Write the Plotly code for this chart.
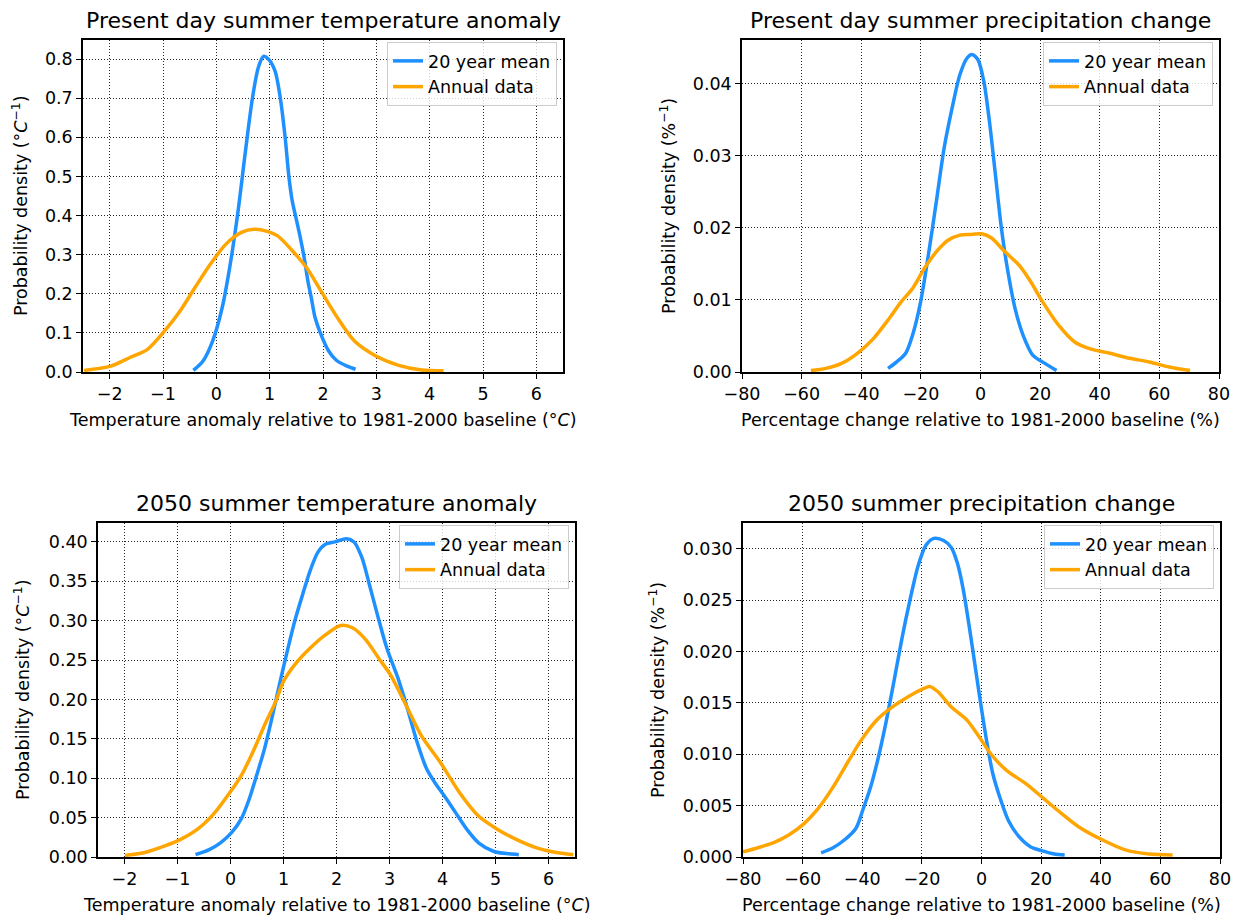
import plotly.graph_objects as go

# reference canvas size; the page adds an 8px body margin, so draw into the visible area
REF_W, REF_H = 1239, 917
OFF = 8
W, H = REF_W - OFF, REF_H - OFF

# ---------------- DATA ----------------
# Present day temperature (deg C)
t_now_mean_x = [-0.43, -0.25, -0.07, 0.11, 0.25, 0.40, 0.54, 0.68, 0.79, 0.885, 0.97, 1.10, 1.20, 1.29, 1.36, 1.42, 1.50, 1.58, 1.65, 1.72, 1.78, 1.85, 1.95, 2.10, 2.25, 2.45, 2.61]
t_now_mean_y = [0.004, 0.028, 0.079, 0.165, 0.267, 0.404, 0.558, 0.703, 0.780, 0.807, 0.801, 0.770, 0.700, 0.600, 0.500, 0.440, 0.390, 0.340, 0.290, 0.230, 0.190, 0.140, 0.100, 0.055, 0.030, 0.015, 0.007]
t_now_ann_x = [-2.48, -1.98, -1.62, -1.29, -0.97, -0.68, -0.40, -0.11, 0.18, 0.47, 0.71, 0.97, 1.15, 1.40, 1.69, 1.98, 2.27, 2.59, 2.99, 3.42, 3.85, 4.26]
t_now_ann_y = [0.004, 0.015, 0.037, 0.058, 0.105, 0.156, 0.216, 0.276, 0.327, 0.357, 0.365, 0.359, 0.348, 0.314, 0.267, 0.203, 0.139, 0.079, 0.041, 0.017, 0.005, 0.003]

# Present day precipitation (%)
p_now_mean_x = [-31.0, -28.1, -25.1, -22.8, -20.1, -17.5, -14.8, -12.2, -9.5, -6.9, -4.5, -2.9, -0.9, 1.1, 3.0, 5.0, 7.0, 9.0, 11.6, 14.3, 17.6, 21.6, 25.5]
p_now_mean_y = [0.0005, 0.0014, 0.0026, 0.0051, 0.0097, 0.0162, 0.0237, 0.0311, 0.0367, 0.0413, 0.0436, 0.0441, 0.0434, 0.0404, 0.0348, 0.0274, 0.0200, 0.0144, 0.0088, 0.0051, 0.0023, 0.0012, 0.0002]
p_now_ann_x = [-56.9, -51.9, -46.6, -41.3, -36.0, -30.7, -26.7, -22.8, -18.8, -14.8, -10.9, -6.9, -2.9, 0.4, 3.7, 7.7, 13.0, 16.9, 20.9, 26.2, 31.5, 36.8, 43.4, 50.0, 56.6, 63.3, 70.3]
p_now_ann_y = [0.0002, 0.0005, 0.0012, 0.0026, 0.0046, 0.0074, 0.0097, 0.0116, 0.0144, 0.0167, 0.0183, 0.0190, 0.0191, 0.0192, 0.0186, 0.0169, 0.0148, 0.0125, 0.0097, 0.0065, 0.0042, 0.0032, 0.0026, 0.0019, 0.0014, 0.0007, 0.0002]

# 2050 temperature (deg C)
t_50_mean_x = [-0.66, -0.41, -0.19, 0.02, 0.20, 0.35, 0.49, 0.64, 0.78, 0.92, 1.07, 1.21, 1.36, 1.50, 1.65, 1.79, 1.97, 2.19, 2.33, 2.48, 2.62, 2.77, 2.95, 3.16, 3.34, 3.52, 3.70, 3.85, 4.03, 4.25, 4.46, 4.68, 4.97, 5.26, 5.44]
t_50_mean_y = [0.003, 0.009, 0.018, 0.031, 0.048, 0.073, 0.103, 0.137, 0.176, 0.218, 0.261, 0.299, 0.333, 0.363, 0.387, 0.397, 0.400, 0.404, 0.400, 0.380, 0.346, 0.308, 0.265, 0.227, 0.188, 0.146, 0.112, 0.095, 0.078, 0.056, 0.035, 0.018, 0.007, 0.004, 0.003]
t_50_ann_x = [-1.99, -1.60, -1.24, -0.95, -0.59, -0.30, -0.01, 0.20, 0.42, 0.64, 0.85, 1.00, 1.21, 1.50, 1.79, 2.08, 2.30, 2.55, 2.80, 3.02, 3.31, 3.60, 3.96, 4.32, 4.68, 5.04, 5.40, 5.76, 6.12, 6.47]
t_50_ann_y = [0.002, 0.006, 0.014, 0.022, 0.037, 0.056, 0.082, 0.103, 0.133, 0.167, 0.197, 0.223, 0.244, 0.265, 0.282, 0.294, 0.291, 0.276, 0.252, 0.231, 0.193, 0.154, 0.120, 0.082, 0.052, 0.035, 0.022, 0.012, 0.006, 0.003]

# 2050 precipitation (%)
p_50_mean_x = [-53.8, -49.8, -45.8, -42.1, -39.9, -37.2, -34.6, -31.9, -29.3, -26.6, -24.0, -21.3, -18.7, -16.0, -12.7, -10.1, -8.1, -6.1, -4.1, -2.1, -0.1, 1.9, 3.8, 6.5, 9.1, 12.5, 16.4, 20.4, 24.4, 27.9]
p_50_mean_y = [0.0004, 0.0009, 0.0017, 0.0028, 0.0045, 0.0068, 0.0097, 0.0133, 0.0172, 0.0214, 0.0250, 0.0283, 0.0303, 0.0310, 0.0308, 0.0301, 0.0286, 0.0260, 0.0224, 0.0185, 0.0146, 0.0110, 0.0081, 0.0055, 0.0035, 0.0020, 0.0010, 0.0006, 0.0003, 0.0002]
p_50_ann_x = [-80.0, -75.0, -69.7, -64.4, -59.7, -55.1, -49.8, -44.5, -40.5, -35.2, -29.9, -24.6, -19.3, -17.4, -14.7, -10.1, -4.8, -0.8, 3.2, 8.5, 15.1, 20.4, 25.7, 32.3, 40.3, 48.2, 56.2, 64.1]
p_50_ann_y = [0.0005, 0.0009, 0.0014, 0.0022, 0.0032, 0.0046, 0.0068, 0.0094, 0.0113, 0.0133, 0.0146, 0.0156, 0.0164, 0.0166, 0.0161, 0.0146, 0.0133, 0.0117, 0.0100, 0.0084, 0.0071, 0.0058, 0.0045, 0.0030, 0.0017, 0.0007, 0.0003, 0.0002]

temp_xticks = [-2, -1, 0, 1, 2, 3, 4, 5, 6]
temp_xlabels = ["−2", "−1", "0", "1", "2", "3", "4", "5", "6"]
prec_xticks = [-80, -60, -40, -20, 0, 20, 40, 60, 80]
prec_xlabels = ["−80", "−60", "−40", "−20", "0", "20", "40", "60", "80"]
tl_yticks = [0.0, 0.1, 0.2, 0.3, 0.4, 0.5, 0.6, 0.7, 0.8]
tr_yticks = [0.00, 0.01, 0.02, 0.03, 0.04]
bl_yticks = [0.00, 0.05, 0.10, 0.15, 0.20, 0.25, 0.30, 0.35, 0.40]
br_yticks = [0.000, 0.005, 0.010, 0.015, 0.020, 0.025, 0.030]

titles = ["Present day summer temperature anomaly", "Present day summer precipitation change",
          "2050 summer temperature anomaly", "2050 summer precipitation change"]
temp_xtitle = "Temperature anomaly relative to 1981-2000 baseline (°<i>C</i>)"
prec_xtitle = "Percentage change relative to 1981-2000 baseline (%)"
temp_ytitle = "Probability density (°<i>C</i><sup>−1</sup>)"
prec_ytitle = "Probability density (%<sup>−1</sup>)"
series_names = ["20 year mean", "Annual data"]

# ---------------- STYLE / LAYOUT ----------------
BLUE = "#1E90FF"
ORANGE = "#FFA500"
FONT = "DejaVu Sans"
FS = 17.5
TFS = 22

# pixel boxes in reference coordinates (left, right, top, bottom)
boxes = [(83, 563, 40, 372), (742, 1219, 40, 372), (98, 575, 523, 857), (743, 1220, 523, 857)]
xranges = [[-2.5, 6.5], [-80, 80], [-2.5, 6.5], [-80, 80]]
yranges = [[0, 0.849], [0, 0.0461], [0, 0.424], [0, 0.0325]]
xticks = [(temp_xticks, temp_xlabels), (prec_xticks, prec_xlabels), (temp_xticks, temp_xlabels), (prec_xticks, prec_xlabels)]
yticks = [(tl_yticks, ".1f"), (tr_yticks, ".2f"), (bl_yticks, ".2f"), (br_yticks, ".3f")]
xtitles = [temp_xtitle, prec_xtitle, temp_xtitle, prec_xtitle]
ytitles = [temp_ytitle, prec_ytitle, temp_ytitle, prec_ytitle]
ytitle_x = [20, 668, 22, 657]
data = [
    (t_now_mean_x, t_now_mean_y, t_now_ann_x, t_now_ann_y),
    (p_now_mean_x, p_now_mean_y, p_now_ann_x, p_now_ann_y),
    (t_50_mean_x, t_50_mean_y, t_50_ann_x, t_50_ann_y),
    (p_50_mean_x, p_50_mean_y, p_50_ann_x, p_50_ann_y),
]

fig = go.Figure()
layout = dict(
    width=W, height=H,
    template="none",
    margin=dict(l=0, r=0, t=0, b=0, pad=0),
    paper_bgcolor="white", plot_bgcolor="white",
    font=dict(family=FONT, size=FS, color="black"),
    annotations=[],
)


def px(x):
    return (x - OFF) / W


def py(y):
    return 1 - (y - OFF) / H


for i in range(4):
    l, r, t, b = boxes[i]
    sfx = "" if i == 0 else str(i + 1)
    xa, ya = "x" + sfx, "y" + sfx
    leg = "legend" + sfx
    mx, my, ax_, ay_ = data[i]
    fig.add_trace(go.Scatter(x=mx, y=my, mode="lines", name=series_names[0],
                             line=dict(color=BLUE, width=3.5, shape="spline", smoothing=0.8),
                             xaxis=xa, yaxis=ya, legend=leg, showlegend=True))
    fig.add_trace(go.Scatter(x=ax_, y=ay_, mode="lines", name=series_names[1],
                             line=dict(color=ORANGE, width=3.5, shape="spline", smoothing=0.8),
                             xaxis=xa, yaxis=ya, legend=leg, showlegend=True))
    common = dict(showline=True, linecolor="black", linewidth=1.5, mirror=True, automargin=False,
                  ticks="outside", ticklen=5, tickwidth=1.3, tickcolor="black",
                  showgrid=True, gridcolor="rgba(0,0,0,0.85)", gridwidth=1, griddash="1px,2px",
                  zeroline=False, tickfont=dict(family=FONT, size=FS, color="black"))
    layout["xaxis" + sfx] = dict(domain=[px(l), px(r)], range=xranges[i], anchor=ya,
                                 tickmode="array", tickvals=xticks[i][0], ticktext=xticks[i][1], **common)
    layout["yaxis" + sfx] = dict(domain=[py(b), py(t)], range=yranges[i], anchor=xa,
                                 tickmode="array", tickvals=yticks[i][0], tickformat=yticks[i][1], **common)
    layout[leg] = dict(x=px(r - 6), y=py(t + 2), xanchor="right", yanchor="top",
                       xref="paper", yref="paper",
                       bgcolor="rgba(255,255,255,0.8)", bordercolor="#cccccc", borderwidth=1,
                       font=dict(family=FONT, size=FS, color="black"), itemwidth=30,
                       tracegroupgap=0)
    cx = (l + r) / 2
    layout["annotations"].append(dict(text=titles[i], x=px(cx), y=py(t - 20), xref="paper", yref="paper",
                                      showarrow=False, xanchor="center", yanchor="middle",
                                      font=dict(family=FONT, size=TFS, color="black")))
    layout["annotations"].append(dict(text=xtitles[i], x=px(cx), y=py(b + 48), xref="paper", yref="paper",
                                      showarrow=False, xanchor="center", yanchor="middle",
                                      font=dict(family=FONT, size=FS, color="black")))
    layout["annotations"].append(dict(text=ytitles[i], x=px(ytitle_x[i]), y=py((t + b) / 2), xref="paper", yref="paper",
                                      showarrow=False, xanchor="center", yanchor="middle", textangle=-90,
                                      font=dict(family=FONT, size=FS, color="black")))

fig.update_layout(**layout)
fig.write_html("out.html")
